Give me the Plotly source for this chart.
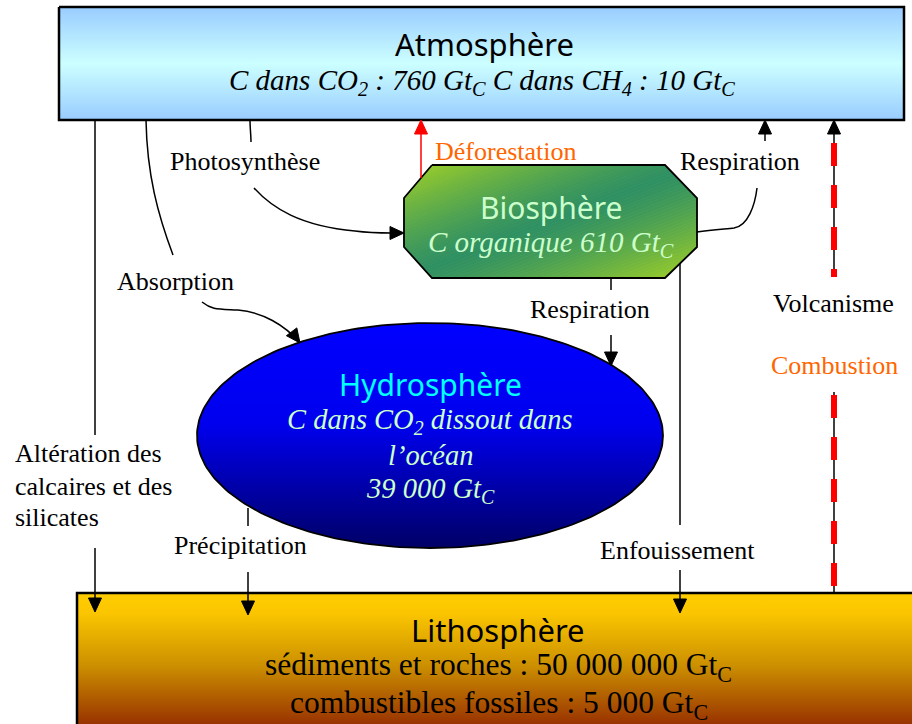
import numpy as np
import plotly.graph_objects as go

# ---------------- data ----------------
RESERVOIRS = ["Atmosphère", "Biosphère", "Hydrosphère", "Lithosphère"]
ATMO_GASES = ["CO<sub>2</sub>", "CH<sub>4</sub>"]
ATMO_STOCKS = [760, 10]
BIO_STOCK = 610
HYDRO_STOCK = 39000
LITHO_KINDS = ["sédiments et roches", "combustibles fossiles"]
LITHO_STOCKS = [50000000, 5000]
UNIT = "Gt<sub>C</sub>"
FLUX_LABELS = ["Photosynthèse", "Déforestation", "Respiration", "Absorption",
               "Respiration", "Volcanisme", "Combustion",
               "Altération des", "calcaires et des", "silicates",
               "Précipitation", "Enfouissement"]


def fmt(v):
    return f"{v:,}".replace(",", " ")


SERIF = "Liberation Serif"
TITLE_FONT = "Noto Sans"

fig = go.Figure()


def poly_trace(xs, ys, fill=None, grad=None, line_color="black", line_w=2.0):
    kw = dict(x=list(xs), y=list(ys), mode="lines", fill="toself",
              line=dict(color=line_color, width=line_w),
              hoverinfo="skip", showlegend=False)
    if grad is not None:
        kw["fillgradient"] = grad
    else:
        kw["fillcolor"] = fill
    fig.add_trace(go.Scatter(**kw))


# ---- Atmosphere box ----
ax0, ax1, ay0, ay1 = 59, 904, 7, 120
poly_trace([ax0, ax1, ax1, ax0, ax0], [ay0, ay0, ay1, ay1, ay0],
           grad=dict(type="vertical", start=ay0, stop=ay1,
                     colorscale=[[0, "#99CCFF"], [0.5, "#CCFFFF"], [1, "#99CCFF"]]),
           line_w=2.5)

# ---- Lithosphere box ----
lx0, ly0 = 77, 593
poly_trace([lx0, lx0, 930, 930, lx0], [740, ly0, ly0, 740, 740],
           grad=dict(type="vertical", start=ly0, stop=724,
                     colorscale=[[0, "#FFCC00"], [0.15, "#FBC600"], [0.55, "#CC9000"],
                                 [1, "#993300"]]),
           line_w=2.5)

# ---- Hydrosphere ellipse ----
ecx, ecy, ea, eb = 430, 435.5, 233, 112.5
th = np.linspace(0, 2 * np.pi, 241)
poly_trace(ecx + ea * np.cos(th), ecy + eb * np.sin(th),
           grad=dict(type="vertical", start=ecy - eb, stop=ecy + eb,
                     colorscale=[[0, "#0000FF"], [0.45, "#0000EE"], [1, "#000066"]]),
           line_w=1.8)

# ---- Biosphere octagon with diagonal reflected gradient ----
octo = [(432, 165), (665, 165), (697, 198), (697, 247), (665, 278), (432, 278),
        (404, 247), (404, 198)]
bx0, bx1, by0, by1 = 404, 697, 165, 278
bw, bh = bx1 - bx0, by1 - by0


def clip(poly, f):
    out = []
    n = len(poly)
    for i in range(n):
        p, q = poly[i], poly[(i + 1) % n]
        fp, fq = f(p), f(q)
        if fp <= 0:
            out.append(p)
        if (fp < 0 < fq) or (fq < 0 < fp):
            t = fp / (fp - fq)
            out.append((p[0] + t * (q[0] - p[0]), p[1] + t * (q[1] - p[1])))
    return out


def sval(p):
    return ((p[0] - bx0) / bw + (p[1] - by0) / bh) / 2


def lerp(c0, c1, t):
    a = [int(c0[i:i + 2], 16) for i in (1, 3, 5)]
    b = [int(c1[i:i + 2], 16) for i in (1, 3, 5)]
    return "rgb(%d,%d,%d)" % tuple(round(a[k] + (b[k] - a[k]) * t) for k in range(3))


N = 70
for k in range(N):
    s0, s1 = k / N, (k + 1) / N
    pts = clip(octo, lambda p, s1=s1: sval(p) - s1)
    pts = clip(pts, lambda p, s0=s0: s0 - sval(p))
    if len(pts) < 3:
        continue
    sm = (s0 + s1) / 2
    t = min(1.0, abs(2 * sm - 1) ** 1.3 * 1.08)
    col = lerp("#2F9062", "#9ACD28", t)
    xs = [p[0] for p in pts] + [pts[0][0]]
    ys = [p[1] for p in pts] + [pts[0][1]]
    poly_trace(xs, ys, fill=col, line_color=col, line_w=0.8)

poly_trace([p[0] for p in octo] + [octo[0][0]], [p[1] for p in octo] + [octo[0][1]],
           fill="rgba(0,0,0,0)", line_w=1.8)

# ---------------- connectors ----------------
shapes = []


def line(x0, y0, x1, y1, color="black", w=1.5, dash=None):
    d = dict(type="line", xref="x", yref="y", x0=x0, y0=y0, x1=x1, y1=y1,
             line=dict(color=color, width=w))
    if dash:
        d["line"]["dash"] = dash
    shapes.append(d)


def curve(path, color="black", w=1.5):
    shapes.append(dict(type="path", xref="x", yref="y", path=path,
                       line=dict(color=color, width=w)))


def head(tx, ty, dx, dy, color="black", L=14, W=6.5):
    n = (dx * dx + dy * dy) ** 0.5
    dx, dy = dx / n, dy / n
    bx, by = tx - L * dx, ty - L * dy
    px, py = -dy, dx
    path = "M %.1f,%.1f L %.1f,%.1f L %.1f,%.1f Z" % (
        tx, ty, bx + W * px, by + W * py, bx - W * px, by - W * py)
    shapes.append(dict(type="path", xref="x", yref="y", path=path,
                       fillcolor=color, line=dict(color=color, width=1)))


# Altération (left vertical)
line(95, ay1, 95, 435)
line(95, 548, 95, 600)
head(95, 612, 0, 1)

# Absorption
curve("M 146,120 C 147,175 158,215 173,255")
curve("M 202,302 C 212,310 218,309 238,310 C 262,312 285,325 300,343")
head(300, 343, 0.6, 0.8)

# Photosynthèse
curve("M 250,120 C 250,128 251,135 251,142")
curve("M 254,188 C 272,208 300,226 355,231 C 370,233 380,233 392,233")
head(404, 233, 1, 0)

# Déforestation (red)
line(421, 178, 421, 133, color="#FF0000", w=1.5)
head(421, 120, 0, -1, color="#FF0000")

# Respiration (biosphere -> atmosphere)
curve("M 697,232 C 712,230 725,229 734,228 C 748,226 755,205 757,188")
line(765, 141, 765, 132)
head(765, 120, 0, -1)

# Volcanisme / Combustion
line(834, 277, 834, 132)
head(834, 120, 0, -1)
line(834, 143, 834, 277, color="#FF0000", w=6, dash="23px,19px")
line(834, 392, 834, 593)
line(834, 395, 834, 590, color="#FF0000", w=6, dash="23px,19px")

# Respiration (biosphere -> hydrosphere)
line(611, 278, 611, 290)
line(611, 335, 611, 354)
head(611, 366, 0, 1)

# Précipitation
line(248, 508, 248, 526)
line(248, 572, 248, 603)
head(248, 615, 0, 1)

# Enfouissement
line(680, 263, 680, 525)
line(680, 570, 680, 601)
head(680, 613, 0, 1)

# ---------------- texts ----------------
ann = []


def text(x, y, s, size, color="black", family=SERIF, xanchor="center"):
    ann.append(dict(x=x, y=y, xref="x", yref="y", text=s, showarrow=False,
                    xanchor=xanchor, yanchor="middle",
                    font=dict(size=size, color=color, family=family)))


text(484, 44, RESERVOIRS[0], 31, family=TITLE_FONT)
text(482, 82, "<i>C dans %s : %s %s C dans %s : %s %s</i>" % (
    ATMO_GASES[0], fmt(ATMO_STOCKS[0]), UNIT, ATMO_GASES[1], fmt(ATMO_STOCKS[1]), UNIT),
    29)

text(551, 207, RESERVOIRS[1], 30, color="#CCFFCC", family=TITLE_FONT)
text(551, 244, "<i>C organique %s %s</i>" % (fmt(BIO_STOCK), UNIT), 29, color="#CCFFCC")

text(430, 384, RESERVOIRS[2], 30, color="#00FFFF", family=TITLE_FONT)
text(430, 421, "<i>C dans %s dissout dans</i>" % ATMO_GASES[0], 28.5, color="#CCFFCC")
text(430, 455, "<i>l’océan</i>", 28.5, color="#CCFFCC")
text(430, 490, "<i>%s %s</i>" % (fmt(HYDRO_STOCK), UNIT), 28.5, color="#CCFFCC")

text(498, 630, RESERVOIRS[3], 31, family=TITLE_FONT)
text(498, 667, "%s : %s %s" % (LITHO_KINDS[0], fmt(LITHO_STOCKS[0]), UNIT), 31.5)
text(499, 705, "%s : %s %s" % (LITHO_KINDS[1], fmt(LITHO_STOCKS[1]), UNIT), 31.5)

ORANGE = "#FF6600"
text(245, 161, FLUX_LABELS[0], 26)
text(506, 151, FLUX_LABELS[1], 26, color=ORANGE)
text(740, 161, FLUX_LABELS[2], 26)
text(175, 281, FLUX_LABELS[3], 26)
text(590, 309, FLUX_LABELS[4], 26)
text(833, 303, FLUX_LABELS[5], 26)
text(834, 365, FLUX_LABELS[6], 26, color=ORANGE)
text(13, 453, FLUX_LABELS[7], 26, xanchor="left")
text(13, 486, FLUX_LABELS[8], 26, xanchor="left")
text(13, 517, FLUX_LABELS[9], 26, xanchor="left")
text(240, 545, FLUX_LABELS[10], 26)
text(677, 550, FLUX_LABELS[11], 26)

fig.update_layout(
    width=912, height=724,
    margin=dict(l=0, r=0, t=0, b=0),
    paper_bgcolor="white", plot_bgcolor="white",
    xaxis=dict(range=[0, 912], visible=False, fixedrange=True),
    yaxis=dict(range=[724, 0], visible=False, fixedrange=True),
    shapes=shapes, annotations=ann, showlegend=False,
)

fig.write_html("out.html",
               config={"displayModeBar": False},
               post_script="document.body.style.margin='0';"
                           "document.body.style.overflow='hidden';")
